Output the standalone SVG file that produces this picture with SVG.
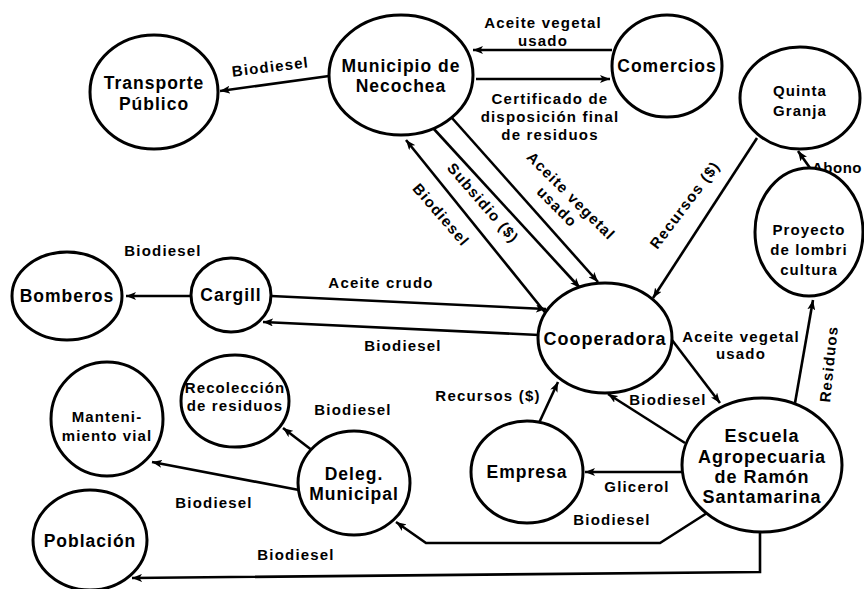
<svg xmlns="http://www.w3.org/2000/svg" width="864" height="589" viewBox="0 0 864 589">
<defs>
<marker id="ah" viewBox="0 0 10 8" refX="10" refY="4" markerWidth="10" markerHeight="8" markerUnits="userSpaceOnUse" orient="auto">
<path d="M0,0 L10,4 L0,8 L2.5,4 z" fill="#000"/>
</marker>
<style>
.n ellipse{fill:#fff;stroke:#000;stroke-width:3}
.n text{font-family:"Liberation Sans",Arial,sans-serif;font-weight:bold;font-size:17.5px;letter-spacing:1px;text-anchor:middle;fill:#000}
.n text.s{font-size:15px;letter-spacing:1.1px}
.c path{fill:none;stroke:#000;stroke-width:2.6;marker-end:url(#ah)}
.c text{font-family:"Liberation Sans",Arial,sans-serif;font-weight:bold;font-size:15px;letter-spacing:1.2px;text-anchor:middle;fill:#000}
</style>
</defs>
<rect width="864" height="589" fill="#fff"/>
<g id="connectors" class="c">
<path d="M329,76 L220,91"/>
<text transform="translate(271,72) rotate(-7)">Biodiesel</text>
<path d="M612,50 L473,50"/>
<text x="543" y="28">Aceite vegetal</text>
<text x="543" y="46">usado</text>
<path d="M476,79 L610,79"/>
<text x="550" y="104">Certificado de</text>
<text x="550" y="122">disposición final</text>
<text x="550" y="140">de residuos</text>
<path d="M548,316 L406,140"/>
<text transform="translate(441,215) rotate(49)" y="5">Biodiesel</text>
<path d="M433,128 L580,288"/>
<text transform="translate(483,203) rotate(49)" y="5">Subsidio ($)</text>
<path d="M452,118 L598,282"/>
<text transform="translate(571,196) rotate(45)" y="5">Aceite vegetal</text>
<text transform="translate(557,207) rotate(45)" y="5">usado</text>
<path d="M757,138 L653,298"/>
<text transform="translate(685,205) rotate(-53)" y="5">Recursos ($)</text>
<path d="M795,403 L813,300"/>
<text transform="translate(829,364) rotate(-84)" y="5">Residuos</text>
<path d="M810,168 L798,151"/>
<text x="812" y="173" style="text-anchor:start;letter-spacing:0.5px">Abono</text>
<path d="M271,296 L546,309"/>
<text x="381" y="288">Aceite crudo</text>
<path d="M539,335 L263,322"/>
<text x="403" y="351">Biodiesel</text>
<path d="M192,296 L126,296"/>
<text x="163" y="256">Biodiesel</text>
<path d="M672,340 L720,403"/>
<text x="741" y="342">Aceite vegetal</text>
<text x="741" y="359">usado</text>
<path d="M685,443 L608,394"/>
<text x="668" y="405">Biodiesel</text>
<path d="M539,423 L558,382"/>
<text x="488" y="401">Recursos ($)</text>
<path d="M683,472 L585,472"/>
<text x="637" y="492">Glicerol</text>
<path d="M707,513 L660,543 L426,543 L396,522"/>
<text x="612" y="525">Biodiesel</text>
<path d="M760,531 L760,572 L132,578"/>
<text x="296" y="560">Biodiesel</text>
<path d="M313,451 L283,428"/>
<text x="353" y="415">Biodiesel</text>
<path d="M299,490 L152,462"/>
<text x="214" y="508">Biodiesel</text>
</g>
<g id="transporte" class="n"><ellipse cx="154" cy="92" rx="64" ry="57"/><text x="154" y="89">Transporte</text><text x="154" y="110">Público</text></g>
<g id="municipio" class="n"><ellipse cx="401" cy="75" rx="72" ry="60"/><text x="401" y="72">Municipio de</text><text x="401" y="92">Necochea</text></g>
<g id="comercios" class="n"><ellipse cx="667" cy="66" rx="55" ry="51"/><text x="667" y="72">Comercios</text></g>
<g id="quinta" class="n"><ellipse cx="800" cy="98" rx="60" ry="51"/><text class="s" x="800" y="96">Quinta</text><text class="s" x="800" y="116">Granja</text></g>
<g id="proyecto" class="n"><ellipse cx="809" cy="232" rx="54" ry="64"/><text class="s" x="809" y="235">Proyecto</text><text class="s" x="809" y="255">de lombri</text><text class="s" x="809" y="275">cultura</text></g>
<g id="bomberos" class="n"><ellipse cx="67" cy="296" rx="55" ry="44"/><text x="67" y="302">Bomberos</text></g>
<g id="cargill" class="n"><ellipse cx="231" cy="295" rx="40" ry="37"/><text x="231" y="301">Cargill</text></g>
<g id="cooperadora" class="n"><ellipse cx="605" cy="338" rx="67" ry="55"/><text x="605" y="345" style="font-size:18px">Cooperadora</text></g>
<g id="recoleccion" class="n"><ellipse cx="235" cy="401" rx="54" ry="46"/><text class="s" x="235" y="393">Recolección</text><text class="s" x="235" y="411">de residuos</text></g>
<g id="mantenimiento" class="n"><ellipse cx="107" cy="419" rx="56" ry="57"/><text class="s" x="107" y="422">Manteni-</text><text class="s" x="107" y="441">miento vial</text></g>
<g id="poblacion" class="n"><ellipse cx="90" cy="540" rx="57" ry="50"/><text x="90" y="547">Población</text></g>
<g id="deleg" class="n"><ellipse cx="354" cy="483" rx="56" ry="52"/><text x="354" y="480">Deleg.</text><text x="354" y="500">Municipal</text></g>
<g id="empresa" class="n"><ellipse cx="527" cy="472" rx="56" ry="51"/><text x="527" y="478">Empresa</text></g>
<g id="escuela" class="n"><ellipse cx="762" cy="465" rx="80" ry="67"/><text x="762" y="442" style="font-size:18px">Escuela</text><text x="762" y="463" style="font-size:18px">Agropecuaria</text><text x="762" y="483" style="font-size:18px">de Ramón</text><text x="762" y="503" style="font-size:18px">Santamarina</text></g>
</svg>
